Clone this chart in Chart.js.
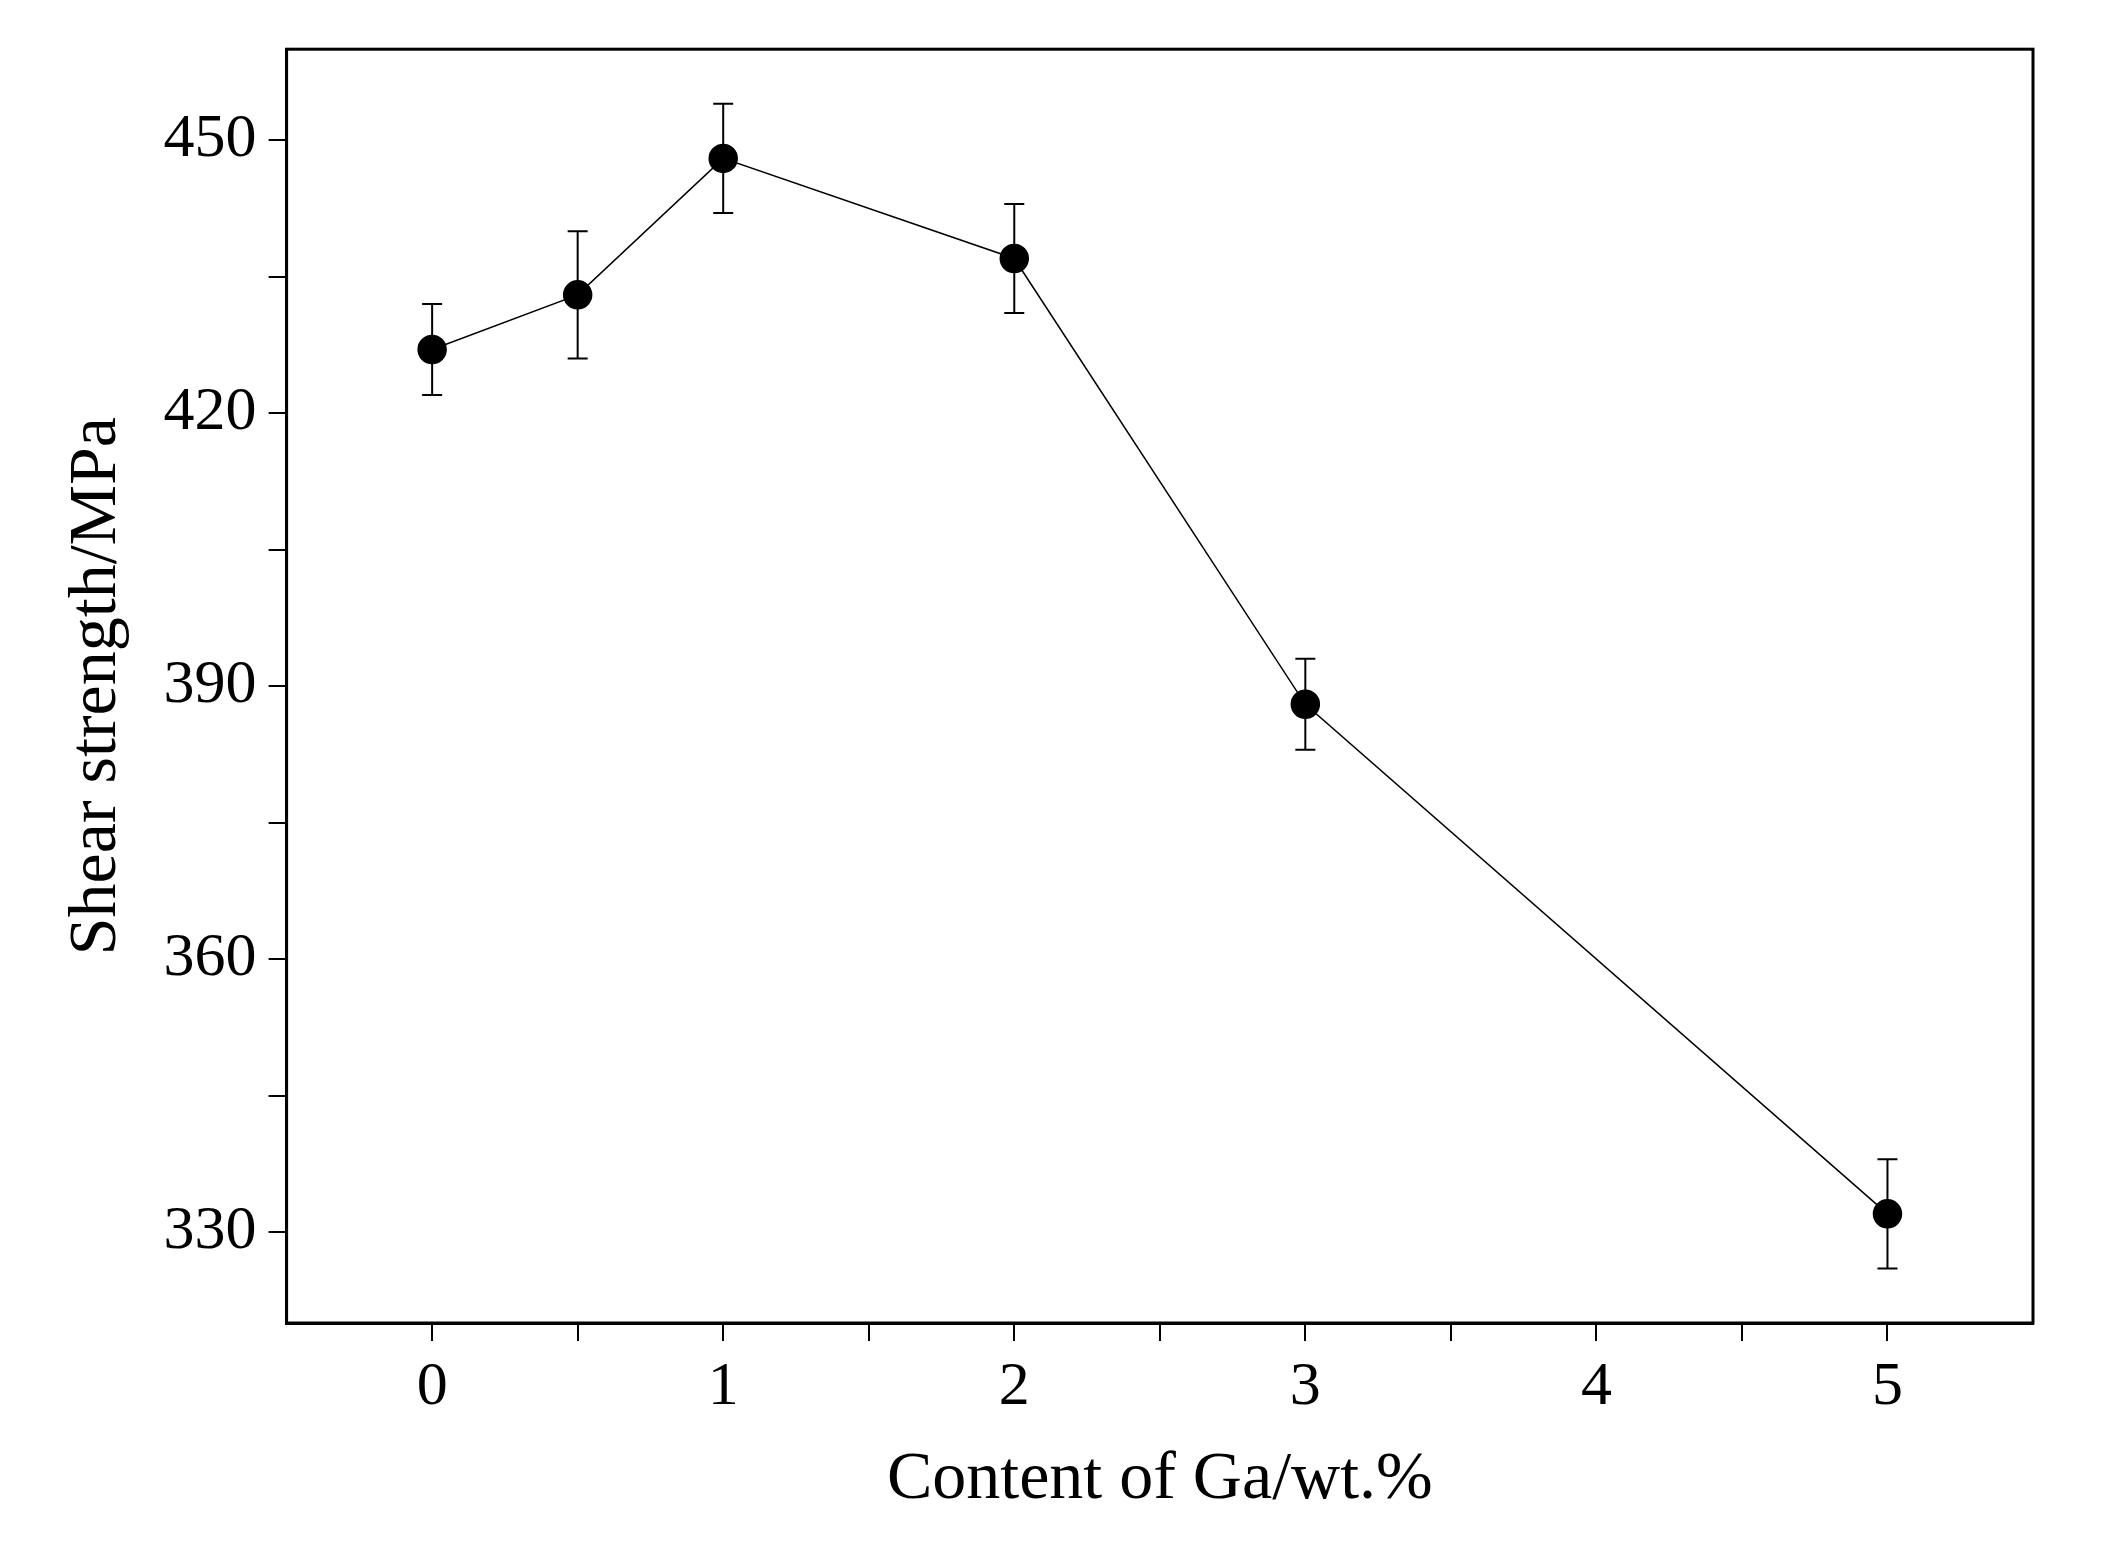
<!DOCTYPE html>
<html><head><meta charset="utf-8">
<script src="https://cdn.jsdelivr.net/npm/chart.js@4"></script>
<style>body{margin:0;background:#fff}</style>
</head><body>
<canvas id="c" width="2109" height="1551"></canvas>
<script>
const gaContent = [0, 0.5, 1, 2, 3, 5];
const shearStrength = [427, 433, 448, 437, 388, 332];
const errUpper = [432, 440, 454, 443, 393, 338];
const errLower = [422, 426, 442, 431, 383, 326];
const yTickValues = [330, 345, 360, 375, 390, 405, 420, 435, 450];
const yLabelled = [330, 360, 390, 420, 450];
const xLabelled = [0, 1, 2, 3, 4, 5];

const FONT = '"Liberation Serif", "DejaVu Serif", serif';

const frameAndErrors = {
  id: 'frameAndErrors',
  afterDatasetsDraw(chart) {
    const {ctx, chartArea: a, scales: {x, y}} = chart;
    ctx.save();
    ctx.strokeStyle = '#000';
    ctx.lineWidth = 3;
    ctx.strokeRect(a.left, a.top, a.right - a.left, a.bottom - a.top);
    ctx.lineWidth = 2;
    gaContent.forEach((g, i) => {
      const px = x.getPixelForValue(g);
      const t = y.getPixelForValue(errUpper[i]);
      const b = y.getPixelForValue(errLower[i]);
      ctx.beginPath();
      ctx.moveTo(px, t); ctx.lineTo(px, b);
      ctx.moveTo(px - 10, t); ctx.lineTo(px + 10, t);
      ctx.moveTo(px - 10, b); ctx.lineTo(px + 10, b);
      ctx.stroke();
    });
    ctx.restore();
  }
};

new Chart(document.getElementById('c'), {
  type: 'scatter',
  data: {
    datasets: [{
      data: gaContent.map((g, i) => ({x: g, y: shearStrength[i]})),
      showLine: true,
      borderColor: '#000',
      borderWidth: 1.5,
      backgroundColor: '#000',
      pointRadius: 14,
      pointHoverRadius: 14
    }]
  },
  options: {
    responsive: false,
    animation: false,
    layout: {padding: {top: 46, right: 76, left: 52, bottom: 26}},
    plugins: {legend: {display: false}, tooltip: {enabled: false}},
    scales: {
      x: {
        type: 'linear', min: -0.5, max: 5.5,
        afterBuildTicks: s => { s.ticks = [0,0.5,1,1.5,2,2.5,3,3.5,4,4.5,5].map(v => ({value: v})); },
        ticks: {
          callback: v => xLabelled.includes(v) ? String(v) : '',
          font: {family: FONT, size: 62}, color: '#000', padding: 10, maxRotation: 0, autoSkip: false
        },
        grid: {drawOnChartArea: false, drawTicks: true, tickLength: 18, color: '#000', lineWidth: 2},
        border: {color: '#000', width: 3},
        title: {display: true, text: 'Content of Ga/wt.%', font: {family: FONT, size: 68}, color: '#000', padding: {top: 4}}
      },
      y: {
        min: 320, max: 460,
        afterBuildTicks: s => { s.ticks = yTickValues.map(v => ({value: v})); },
        ticks: {
          callback: v => yLabelled.includes(v) ? String(v) : '',
          font: {family: FONT, size: 62}, color: '#000', padding: 12, autoSkip: false
        },
        grid: {drawOnChartArea: false, drawTicks: true, tickLength: 18, color: '#000', lineWidth: 2},
        border: {color: '#000', width: 3},
        title: {display: true, text: 'Shear strength/MPa', font: {family: FONT, size: 68}, color: '#000', padding: {bottom: 14}}
      }
    }
  },
  plugins: [frameAndErrors]
});
</script>
</body></html>
